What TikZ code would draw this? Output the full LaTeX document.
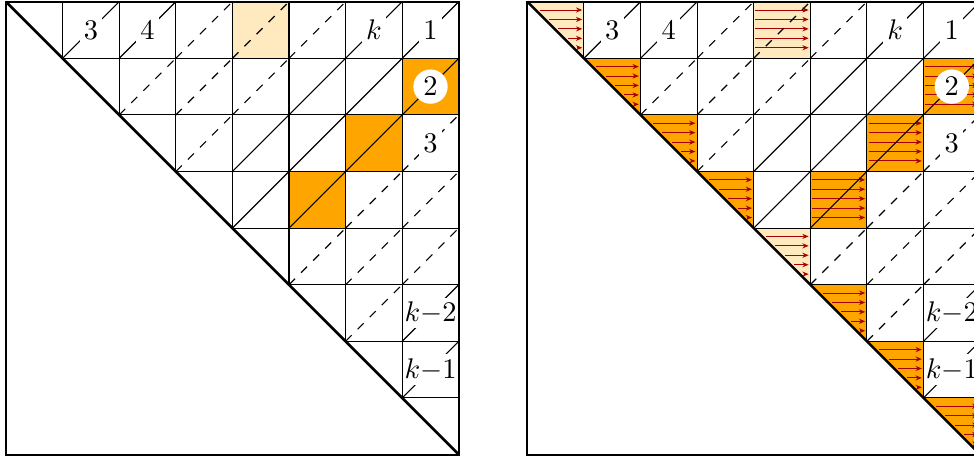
\documentclass[tikz,border=0pt]{standalone}
\usetikzlibrary{arrows.meta}

\definecolor{hlorange}{RGB}{255,165,0}
\colorlet{hllight}{hlorange!25!white}
\colorlet{flowred}{red!65!black}

\begin{document}
\begin{tikzpicture}[x=0.7cm, y=0.7cm, >=Stealth,
    frame/.style={line width=0.7pt},
    gridline/.style={line width=0.4pt},
    lab/.style={fill=white, inner sep=1.5pt},
    widelab/.style={fill=white, inner xsep=0pt, inner ysep=1.5pt},
    circlab/.style={circle, fill=white, inner sep=1.4pt},
    flow/.style={-{Stealth[length=2.2pt, width=1.8pt]}, flowred, line width=0.35pt}]
  \clip (-0.106, 0.03) rectangle (17.102, -8.044);
  % highlighted cells, same in both panels
  \foreach \ox in {0, 9.21} {
    \fill[hllight] (\ox+4, 0) rectangle ++(1, -1);
    \foreach \i/\j in {1/7, 2/6, 3/5}
      \fill[hlorange] (\ox+\j, -\i) rectangle ++(1, -1);
  }
  % right panel: half cells on the diagonal and the arrows
  \begin{scope}[shift={(9.21,0)}]
    \foreach \i/\c in {0/hllight, 1/hlorange, 2/hlorange, 3/hlorange,
                       4/hllight, 5/hlorange, 6/hlorange, 7/hlorange}
      \fill[\c] (\i, -\i) -- ++(1, 0) -- ++(0, -1) -- cycle;
    \foreach \i in {0,...,7}
      \foreach \k in {1,...,5}
        \draw[flow] ({\i+\k/6+0.05}, {-\i-\k/6+0.02}) -- ({\i+0.97}, {-\i-\k/6+0.02});
    \foreach \i/\j in {0/4, 1/7, 2/6, 3/5}
      \foreach \k in {1,...,5}
        \draw[flow] ({\j+0.03}, {-\i-\k/6+0.02}) -- ({\j+0.97}, {-\i-\k/6+0.02});
  \end{scope}
  % grid, diagonals and labels of both panels
  \foreach \ox/\pn in {0/l, 9.21/r} {
    \begin{scope}[shift={(\ox,0)}]
      \foreach \i/\j in {0/1, 0/2, 0/6, 0/7, 1/5, 1/6, 1/7,
                         2/4, 2/5, 2/6, 3/4, 3/5, 5/7, 6/7}
        \draw[gridline] (\j, -\i-1) -- ++(1, 1);
      \foreach \i/\j in {0/3, 0/4, 0/5, 1/2, 1/3, 1/4, 2/3,
                         2/7, 3/6, 3/7, 4/5, 4/6, 4/7, 5/6}
        \draw[gridline, dashed] (\j, -\i-1) -- ++(1, 1);
      % labels
      \node[lab] (\pn top3) at (1.5, -0.5) {$3$};
      \node[lab] (\pn top4) at (2.5, -0.5) {$4$};
      \node[lab] (\pn topk) at (6.5, -0.5) {$k$};
      \node[lab] (\pn one) at (7.5, -0.5) {$1$};
      \node[circlab] (\pn two) at (7.5, -1.5) {$2$};
      \node[lab] (\pn three) at (7.5, -2.5) {$3$};
      \node[widelab] (\pn kmtwo) at (7.5, -5.5) {$k{-}2$};
      \node[widelab] (\pn kmone) at (7.5, -6.5) {$k{-}1$};
      % cell borders on top
      \foreach \r in {1,...,7} {
        \draw[gridline] (\r, -\r) -- (8, -\r);
        \draw[gridline] (\r, 0) -- (\r, -\r);
      }
      \draw[frame] (0, 0) rectangle (8, -8);
      \draw[line width=0.9pt] (0, 0) -- (8, -8);
    \end{scope}
  }
\end{tikzpicture}
\end{document}
